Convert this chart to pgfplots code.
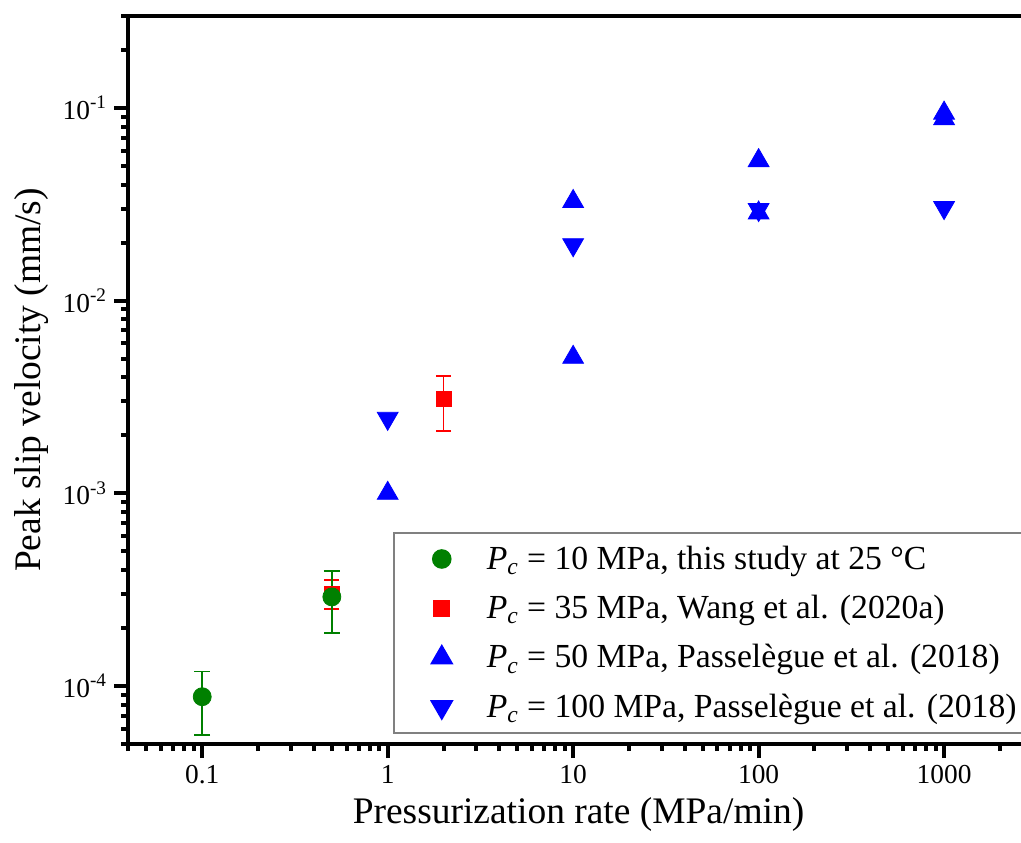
\documentclass[border=0pt]{standalone}
\usepackage{fontspec}
\setmainfont{Liberation Serif}
\usepackage{pgfplots}
\pgfplotsset{compat=1.18}
\definecolor{mgreen}{RGB}{0,128,0}
\definecolor{mred}{RGB}{255,0,0}
\definecolor{mblue}{RGB}{0,0,255}
\begin{document}
\begin{tikzpicture}
\begin{axis}[
  scale only axis, width=450.5bp, height=364bp,
  xmode=log, ymode=log,
  xmin=0.0398, xmax=2870, ymin=5e-5, ymax=0.3,
  axis line style={line width=2bp},
  every tick/.style={line width=2bp, black},
  major tick length=7bp, minor tick length=3.5bp,
  tick align=outside, tick pos=left,
  xtick={0.1,1,10,100,1000}, xticklabels={0.1,1,10,100,1000},
  minor xtick={0.04,0.05,0.06,0.07,0.08,0.09,0.2,0.3,0.4,0.5,0.6,0.7,0.8,0.9,2,3,4,5,6,7,8,9,20,30,40,50,60,70,80,90,200,300,400,500,600,700,800,900,2000},
  ytick={1e-4,1e-3,1e-2,1e-1},
  yticklabels={10\textsuperscript{-4},10\textsuperscript{-3},10\textsuperscript{-2},10\textsuperscript{-1}},
  minor ytick={5e-5,6e-5,7e-5,8e-5,9e-5,2e-4,3e-4,4e-4,5e-4,6e-4,7e-4,8e-4,9e-4,2e-3,3e-3,4e-3,5e-3,6e-3,7e-3,8e-3,9e-3,0.02,0.03,0.04,0.05,0.06,0.07,0.08,0.09,0.2,0.3},
  ticklabel style={font=\fontsize{13.75}{16}\selectfont},
  label style={font=\fontsize{18.8}{22}\selectfont},
  xlabel={Pressurization rate (MPa/min)},
  ylabel={Peak slip velocity (mm/s)},
  legend style={at={(0.2941,0.2912)}, anchor=north west, draw=gray, line width=0.8bp,
    font=\fontsize{16.9}{20}\selectfont, inner xsep=12bp, inner ysep=4.5bp, row sep=7.5bp,
    /tikz/every odd column/.append style={column sep=8.5bp}},
  legend cell align=left,
  legend image code/.code={%
    \path[draw=none, fill=none] (0bp,0bp) rectangle (24bp,0.1bp);
    \draw[#1] plot[only marks] coordinates {(12bp,0bp)};%
  },
]
% red first (behind green)
\addplot[only marks, mark=square*, mark size=3.75bp, color=mred, forget plot,
  error bars/.cd, y dir=both, y explicit,
  error bar style={line width=0.9bp, mred},
  error mark options={rotate=90, mark size=3.75bp, line width=0.9bp, mred}]
  coordinates {
  (0.5,3.0e-4) += (0,0.55e-4) -= (0,0.5e-4)
  (2,3.08e-3) += (0,1.0e-3) -= (0,0.98e-3)
  };
\addplot[only marks, mark=*, mark size=4.5bp, color=mgreen,
  error bars/.cd, y dir=both, y explicit,
  error bar style={line width=0.8bp, mgreen},
  error mark options={rotate=90, mark size=4bp, line width=0.8bp, mgreen}]
  coordinates {
  (0.1,8.8e-5) += (0,3.1e-5) -= (0,3.23e-5)
  (0.5,2.9e-4) += (0,1.04e-4) -= (0,1.01e-4)
  };
\addlegendentry{\textit{P}\textsubscript{\textit{c}} = 10 MPa, this study at 25 °C}
\addlegendimage{only marks, mark=square*, mark size=3.75bp, color=mred}
\addlegendentry{\textit{P}\textsubscript{\textit{c}} = 35 MPa, Wang et al. (2020a)}
\addplot[only marks, mark=triangle*, mark size=6bp, color=mblue]
  coordinates {
  (1,1.0e-3) (10,5.08e-3) (10,0.0327) (100,0.0533) (100,0.0285) (1000,0.094) (1000,0.088)
  };
\addlegendentry{\textit{P}\textsubscript{\textit{c}} = 50 MPa, Passelègue et al. (2018)}
\addplot[only marks, mark=triangle*, mark options={rotate=180}, mark size=6bp, color=mblue]
  coordinates {
  (1,2.45e-3) (10,0.0195) (100,0.0297) (1000,0.0304)
  };
\addlegendentry{\textit{P}\textsubscript{\textit{c}} = 100 MPa, Passelègue et al. (2018)}
\end{axis}
\pgfresetboundingbox
\path ([xshift=-64bp,yshift=-49.5bp]current axis.south west) rectangle ([xshift=-4bp,yshift=8bp]current axis.north east);
\end{tikzpicture}
\end{document}
